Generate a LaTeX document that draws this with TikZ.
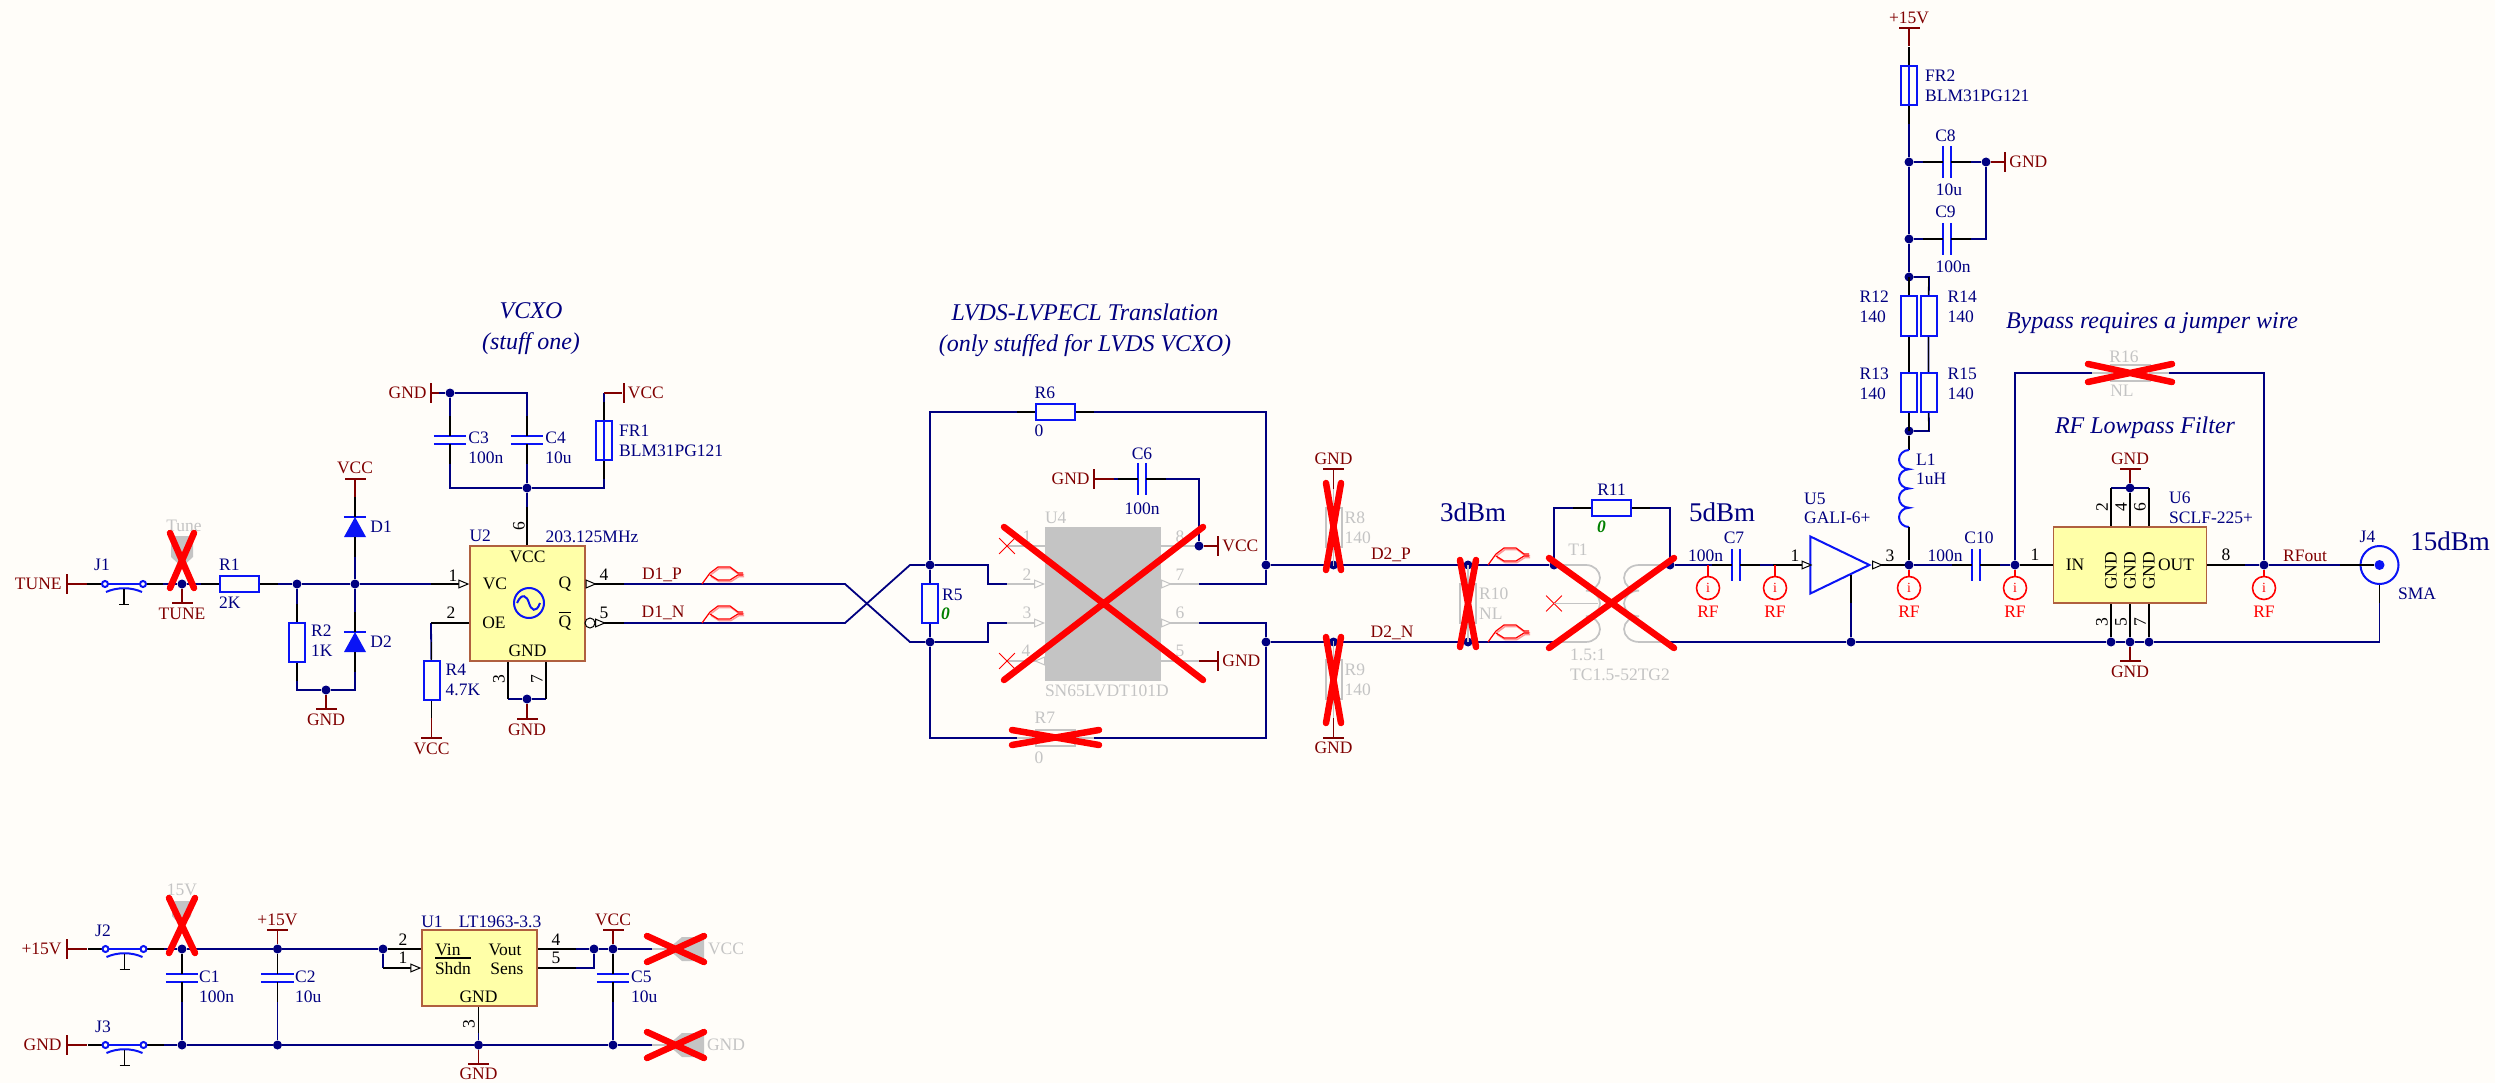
\documentclass[tikz,border=0pt]{standalone}
\usepackage{fontspec}
\setmainfont{Liberation Serif}
\usetikzlibrary{positioning,arrows.meta,backgrounds,shapes.misc,shapes.geometric}
\definecolor{paper}{HTML}{FFFDF9}
\definecolor{netblue}{HTML}{000080}
\definecolor{partblue}{HTML}{0A14F5}
\definecolor{pwrred}{HTML}{800000}
\definecolor{ghost}{HTML}{C4C4C4}
\definecolor{icfill}{HTML}{FFFFA8}
\definecolor{icedge}{HTML}{B0603F}
\definecolor{zerogreen}{HTML}{008000}
\tikzset{
	vleads/.style={append after command={\pgfextra{\let\tn\tikzlastnode}
		(\tn.north) edge[#1] ++(0,-18) (\tn.south) edge[#1] ++(0,18)}},
	hleads/.style={append after command={\pgfextra{\let\tn\tikzlastnode}
		(\tn.west) edge[#1] ++(-18,0) (\tn.east) edge[#1] ++(18,0)}},
	wire/.style={draw=netblue,line width=1.8pt},
	stub/.style={draw=black,line width=1.7pt},
	gstub/.style={draw=ghost,line width=1.7pt},
	power/.style={draw=pwrred,line width=1.7pt},
	part/.style={draw=partblue,line width=2pt},
	bodyv/.style={rectangle,line width=2pt,inner sep=0,minimum width=16pt,minimum height=39pt},
	bodyh/.style={rectangle,line width=2pt,inner sep=0,minimum width=39pt,minimum height=16pt},
	resv/.style={bodyv,draw=partblue,vleads=stub},
	resh/.style={bodyh,draw=partblue,hleads=stub},
	gresv/.style={bodyv,draw=ghost,vleads=gstub},
	gresh/.style={bodyh,draw=ghost,hleads=gstub},
	fuse/.style={resv,path picture={\draw[part] (path picture bounding box.north)--(path picture bounding box.south);}},
	capv/.style={rectangle,inner sep=0,minimum width=32pt,minimum height=8pt,
		append after command={\pgfextra{\let\tn\tikzlastnode}
		(\tn.north west) edge[part] (\tn.north east) (\tn.south west) edge[part] (\tn.south east)
		(\tn.north) edge[stub] ++(0,-20) (\tn.south) edge[stub] ++(0,20)}},
	caph/.style={rectangle,inner sep=0,minimum width=8pt,minimum height=32pt,
		append after command={\pgfextra{\let\tn\tikzlastnode}
		(\tn.north west) edge[part] (\tn.south west) (\tn.north east) edge[part] (\tn.south east)
		(\tn.west) edge[stub] ++(-20,0) (\tn.east) edge[stub] ++(20,0)}},
	diode/.style={rectangle,inner sep=0,minimum width=22pt,minimum height=20pt,
		path picture={\fill[partblue] (path picture bounding box.south west)--(path picture bounding box.south east)--(path picture bounding box.north)--cycle;},
		append after command={\pgfextra{\let\tn\tikzlastnode}
		(\tn.north west) edge[part] (\tn.north east)
		(\tn.north) edge[stub] ++(0,-20) (\tn.south) edge[stub] ++(0,20)}},
	dot/.style={circle,fill=netblue,inner sep=0,minimum size=9pt},
	barh/.style={rectangle,fill=pwrred,inner sep=0,minimum width=21pt,minimum height=2pt},
	barv/.style={rectangle,fill=pwrred,inner sep=0,minimum width=2pt,minimum height=20pt},
	ovl/.style={rectangle,fill=black,inner sep=0,minimum height=1.2pt},
	ic/.style={rectangle,draw=icedge,fill=icfill,line width=1.4pt,inner sep=0},
	lbl/.style={text=netblue,inner sep=0,align=left,font=\fontsize{17.5}{20}\selectfont},
	pwr/.style={text=pwrred,inner sep=0,font=\fontsize{17.5}{20}\selectfont},
	glbl/.style={text=ghost,inner sep=0,align=left,font=\fontsize{17.5}{20}\selectfont},
	ictxt/.style={text=black,inner sep=0,font=\fontsize{17.5}{20}\selectfont},
	zero/.style={text=zerogreen,inner sep=0,font=\fontsize{17.5}{20}\selectfont\itshape\bfseries},
	title/.style={text=netblue,inner sep=0,align=center,font=\fontsize{24}{31}\selectfont\itshape},
	power level/.style={text=netblue,inner sep=0,font=\fontsize{27}{30}\selectfont},
	probe/.style={circle,draw=red,line width=1.6pt,inner sep=0,minimum size=23pt,text=red,font=\fontsize{14}{14}\selectfont},
	rf/.style={text=red,inner sep=0,font=\fontsize{17.5}{20}\selectfont},
	xmark/.style={cross out,draw=red,line width=6.5pt,line cap=round,inner sep=0,outer sep=0},
	nc/.style={cross out,draw=red,line width=.8pt,inner sep=0,minimum size=15pt},
	outline/.style={fill=ghost,draw=none},
	tip/.style={-{Triangle[open,fill=paper,length=11pt,width=9pt,line width=1pt]}},
	jumper/.pic={
		\draw[stub] (-18,0)--(0,0) (38,0)--(58,0);
		\draw[part] (0,0)--(38,0);
		\draw[part] (1,8) .. controls (12,3) and (26,3) .. (37,8);
		\draw[stub] (19,5)--(19,20);
		\draw[stub,line width=1pt] (14,20)--(24,20);
		\draw[part,fill=paper] (0,0) circle[radius=3pt] (38,0) circle[radius=3pt];
	},
	diffpair/.pic={
		\draw[red!40,line width=1.5pt,xshift=1pt,yshift=-1.5pt] (8,-11)--(16,-17)--(28,-17)--(36,-11)--(41,-11) (8,-9)--(16,-4)--(28,-4)--(36,-9)--(41,-9);
		\draw[red,line width=1.2pt] (0,0)--(8,-11)--(16,-17)--(28,-17)--(36,-11)--(41,-11) (8,-9)--(16,-4)--(28,-4)--(36,-9)--(41,-9);
	}
}
\begin{document}
\begin{tikzpicture}[x=1pt,y=-1pt]
\begin{scope}[on background layer]
	\path [use as bounding box,fill=paper] (0,0) rectangle (2495,1083);
\end{scope}

	\node [title] (vcxot) at (531,329) {VCXO\\(stuff one)};
	\node [title] (lvdst) at (1085,330) {LVDS-LVPECL Translation\\(only stuffed for LVDS VCXO)};
	\node [title] (bypt) at (2152,323) {Bypass requires a jumper wire};
	\node [title] (rflp) at (2145,428) {RF Lowpass Filter};
	\node [power level] (db3) at (1473,512) {3dBm};
	\node [power level] (db5) at (1722,512) {5dBm};
	\node [power level] (db15) at (2450,541) {15dBm};

	\node [barv] (tunebar) at (67,584) {};
	\node [pwr,left=4pt of tunebar] (tunet) {TUNE};
	\coordinate (j1a) at (105,584);
	\coordinate [right=38pt of j1a] (j1b);
	\pic at (j1a) {jumper};
	\node [lbl,above=13pt of j1a,xshift=-3pt] (j1t) {J1};
	\node [dot] (tdot) at (182,584) {};
	\node [barh] (tbar) at (182,603) {};
	\node [pwr,below=4pt of tbar] (ttxt) {TUNE};
	\node [resh] (r1) at (239.5,584) {};
	\node [lbl,above right=4pt and 0pt of r1.north west] (r1t) {R1};
	\node [lbl,below right=4pt and 0pt of r1.south west] (r1v) {2K};
	\node [dot] (r2dot) at (297,584) {};
	\node [dot] (djun) at (355,584) {};
	\node [resv] (r2) at (297,642) {};
	\node [lbl,right=5pt of r2,yshift=1.5pt] (r2t) {R2\\1K};
	\coordinate (r2b) at (297,690);
	\coordinate (d2b) at (355,690);
	\node [dot] (gdot) at (326,690) {};
	\node [barh] (gbar) at (326,709) {};
	\node [pwr,below=4pt of gbar] (gtxt) {GND};
	\node [diode] (d1) at (355,527) {};
	\node [lbl,right=4pt of d1] (d1t) {D1};
	\node [barh] (d1bar) at (355,479) {};
	\node [pwr,above=4pt of d1bar] (d1txt) {VCC};
	\node [diode] (d2) at (355,642) {};
	\node [lbl,right=4pt of d2] (d2t) {D2};

	\node [ic,minimum width=115pt,minimum height=115pt] (u2) at (527.5,603.5) {};
	\node [lbl,above right=3pt and 0pt of u2.north west] (u2t) {U2};
	\node [lbl] (u2v) at (592,537) {203.125MHz};
	\node [ictxt,below=5pt of u2.north] (u2vcc) {VCC};
	\node [ictxt] (u2vc) at (495,584) {VC};
	\node [ictxt] (u2q) at (565,584) {Q};
	\node [ictxt] (u2nq) at (565,623) {Q};
	\node [ovl,minimum width=12pt,above=2pt of u2nq] (u2nb) {};
	\node [ictxt] (u2oe) at (494,623) {OE};
	\node [ictxt,above=5pt of u2.south] (u2gnd) {GND};
	\node [circle,draw=partblue,line width=2pt,minimum size=30pt,inner sep=0] (osc) at (529,603) {};
	\draw [part] (osc.west) ++(4,0) .. controls (522,592) and (527,596) .. (529,603) .. controls (531,610) and (536,614) .. (540,603);
	\coordinate (u2p1) at (431,584);
	\coordinate (u2p2) at (431,623);
	\coordinate (u2p3) at (508,699);
	\coordinate (u2p7) at (546,699);
	\coordinate (u2p6) at (527,507);
	\coordinate (u2p4) at (624,584);
	\coordinate (u2p5) at (624,623);
	\draw [stub,tip] (u2p1) -- (u2p1 -| u2.west);
	\draw [stub] (u2p2) -- (u2p2 -| u2.west);
	\draw [stub] (u2p3) -- (u2p3 |- u2.south);
	\draw [stub] (u2p7) -- (u2p7 |- u2.south);
	\draw [stub] (u2p6) -- (u2p6 |- u2.north);
	\draw [stub] (u2p4) -- (u2p4 -| u2.east);
	\draw [stub] (u2p5) -- (u2p5 -| u2.east);
	\draw [stub,tip] (u2.east |- u2p4) -- ++(11,0);
	\draw [stub,tip] (595,623) -- ++(11,0);
	\node [circle,draw=black,fill=paper,line width=1pt,minimum size=10pt,inner sep=0] (u2bub) at (590,623) {};
	\node [ictxt] (n1) at (453,576) {1};
	\node [ictxt] (n2) at (451,613) {2};
	\node [ictxt] (n4) at (604,575) {4};
	\node [ictxt] (n5) at (604,613) {5};
	\node [ictxt,rotate=90] (n6) at (519,526) {6};
	\node [ictxt,rotate=90] (n3) at (499,679) {3};
	\node [ictxt,rotate=90] (n7) at (537,679) {7};
	\node [resv] (r4) at (431.5,680) {};
	\node [lbl,right=5pt of r4] (r4t) {R4\\4.7K};
	\node [barh] (r4bar) at (431.5,738) {};
	\node [pwr,below=3.5pt of r4bar] (r4txt) {VCC};
	\node [dot] (u2gdot) at (527,699) {};
	\node [barh] (u2gbar) at (527,719) {};
	\node [pwr,below=3.5pt of u2gbar] (u2gtxt) {GND};
	\node [dot] (c4dot) at (527,488) {};
	\node [dot] (c3dot) at (450,393) {};
	\coordinate (c4t) at (527,393);
	\coordinate (c3b) at (450,488);
	\coordinate (fr1b) at (604,488);
	\coordinate (fr1t) at (604,393);
	\node [capv] (c3) at (450,440) {};
	\node [lbl,right=2pt of c3,yshift=-8pt] (c3t) {C3\\100n};
	\node [capv] (c4) at (527,440) {};
	\node [lbl,right=2pt of c4,yshift=-8pt] (c4t2) {C4\\10u};
	\node [barv] (c3bar) at (431,393) {};
	\node [pwr,left=3pt of c3bar] (c3txt) {GND};
	\node [fuse] (fr1) at (604,440.5) {};
	\node [lbl,right=6pt of fr1] (fr1l) {FR1\\BLM31PG121};
	\node [barv] (fr1bar) at (623.5,393) {};
	\node [pwr,right=3pt of fr1bar] (fr1txt) {VCC};

	\node [pwr] (d1p) at (662,575) {D1\_P};
	\node [pwr] (d1n) at (663,613) {D1\_N};
	\pic at (702,584) {diffpair};
	\pic at (702,623) {diffpair};
	\coordinate (xa) at (845,584);
	\coordinate (xb) at (845,623);
	\coordinate (xc) at (910,642);
	\coordinate (xd) at (910,565);
	\node [dot] (r5t) at (930,565) {};
	\node [dot] (r5b) at (930,642) {};
	\node [bodyv,draw=partblue] (r5) at (930,603.5) {};
	\node [lbl,right=3pt of r5,yshift=9pt] (r5l) {R5};
	\node [zero,right=2pt of r5,yshift=-10pt] (r5v) {0};
	\coordinate (xe) at (988,565);
	\coordinate (xf) at (988,584);
	\coordinate (xg) at (1007,584);
	\coordinate (xh) at (988,642);
	\coordinate (xi) at (988,623);
	\coordinate (xj) at (1007,623);
	\coordinate (r6a) at (930,412);
	\coordinate (r6b) at (1266,412);
	\coordinate (r7a) at (930,738);
	\coordinate (r7b) at (1266,738);
	\node [resh] (r6) at (1055,412) {};
	\node [lbl,above right=4pt and 0pt of r6.north west] (r6t) {R6};
	\node [lbl,below right=4pt and 0pt of r6.south west] (r6v) {0};
	\node [gresh] (r7) at (1055,738) {};
	\node [glbl,above right=5pt and 0pt of r7.north west] (r7t) {R7};
	\node [glbl,below right=5pt and 0pt of r7.south west] (r7v) {0};

	\coordinate (u4p1) at (1007,546);
	\coordinate (u4p2) at (1007,584);
	\coordinate (u4p3) at (1007,623);
	\coordinate (u4p4) at (1007,661);
	\coordinate (u4p8) at (1199,546);
	\coordinate (u4p7) at (1199,584);
	\coordinate (u4p6) at (1199,623);
	\coordinate (u4p5) at (1199,661);
	\draw [gstub] (u4p1) -- (1045,546) (1161,546) -- (u4p8) (1161,661) -- (u4p5) (1161,584) -- (u4p7) (1161,623) -- (u4p6) (u4p4) -- (1045,661);
	\draw [gstub,tip] (u4p2) -- (1045,584);
	\draw [gstub,tip] (u4p3) -- (1045,623);
	\draw [gstub,tip] (1045,661) -- (1034,661);
	\draw [gstub,tip] (1161,584) -- (1172,584);
	\draw [gstub,tip] (1161,623) -- (1172,623);
	\node [rectangle,fill=ghost,inner sep=0,minimum width=116pt,minimum height=154pt] (u4) at (1103,604) {};
	\node [glbl,above right=3pt and 0pt of u4.north west] (u4t) {U4};
	\node [glbl,below right=3pt and 0pt of u4.south west] (u4v) {SN65LVDT101D};
	\node [glbl] (g1) at (1027,537) {1};
	\node [glbl] (g2) at (1027,575) {2};
	\node [glbl] (g3) at (1027,613) {3};
	\node [glbl] (g4) at (1026,651) {4};
	\node [glbl] (g8) at (1180,537) {8};
	\node [glbl] (g7) at (1180,575) {7};
	\node [glbl] (g6) at (1180,613) {6};
	\node [glbl] (g5) at (1180,651) {5};
	\node [nc] (u4nc1) at (u4p1) {};
	\node [nc] (u4nc4) at (u4p4) {};
	\node [barv] (c6bar) at (1094,479) {};
	\node [pwr,left=3pt of c6bar] (c6txt) {GND};
	\node [caph] (c6) at (1142,479) {};
	\node [lbl,above=3pt of c6] (c6t) {C6};
	\node [lbl,below=7pt of c6] (c6v) {100n};
	\coordinate (c6r) at (1199,479);
	\node [dot] (u4vdot) at (u4p8) {};
	\node [barv] (u4vbar) at (1218,546) {};
	\node [pwr,right=3pt of u4vbar] (u4vtxt) {VCC};
	\node [barv] (u4gbar) at (1218,661) {};
	\node [pwr,right=3pt of u4gbar] (u4gtxt) {GND};

	\node [dot] (rjt) at (1266,565) {};
	\node [dot] (rjb) at (1266,642) {};
	\node [dot] (r8d) at (1333.5,565) {};
	\node [dot] (r9d) at (1333.5,642) {};
	\node [gresv] (r8) at (1333.5,527.5) {};
	\node [glbl,right=2pt of r8] (r8t) {R8\\140};
	\node [gresv] (r9) at (1333.5,679.5) {};
	\node [glbl,right=2pt of r9] (r9t) {R9\\140};
	\node [barh] (r8bar) at (1333.5,469) {};
	\node [pwr,above=3pt of r8bar] (r8txt) {GND};
	\node [barh] (r9bar) at (1333.5,738) {};
	\node [pwr,below=3pt of r9bar] (r9txt) {GND};
	\node [pwr] (d2p) at (1391,555) {D2\_P};
	\node [pwr] (d2n) at (1392,633) {D2\_N};
	\node [dot] (r10t) at (1468,565) {};
	\node [dot] (r10b) at (1468,642) {};
	\node [gresv] (r10) at (1468,603.5) {};
	\node [glbl,right=2pt of r10] (r10l) {R10\\NL};
	\pic at (1488,565) {diffpair};
	\pic at (1488,642) {diffpair};

	\node [dot] (t1a) at (1554,565) {};
	\coordinate (t1b) at (1554,642);
	\node [dot] (t1c) at (1670,565) {};
	\coordinate (t1d) at (1670,642);
	\draw [gstub] (t1a) -- (1586,565) arc[start angle=90,end angle=-90,x radius=14pt,y radius=12.83pt]
		arc[start angle=90,end angle=-90,x radius=14pt,y radius=12.83pt]
		arc[start angle=90,end angle=-90,x radius=14pt,y radius=12.83pt] -- (t1b);
	\draw [gstub] (t1c) -- (1639,565) arc[start angle=90,end angle=270,x radius=15pt,y radius=12.83pt]
		arc[start angle=90,end angle=270,x radius=15pt,y radius=12.83pt]
		arc[start angle=90,end angle=270,x radius=15pt,y radius=12.83pt] -- (t1d);
	\node [nc] (t1nc) at (1554,603.5) {};
	\draw [gstub] (t1nc.center) -- (1598,603.5);
	\node [glbl] (t1t) at (1578,550) {T1};
	\node [glbl,anchor=north west] (t1v) at (1570,649) {1.5:1\\TC1.5-52TG2};
	\coordinate (r11a) at (1554,508);
	\coordinate (r11b) at (1670,508);
	\node [resh] (r11) at (1611.5,508) {};
	\node [lbl,above=3pt of r11] (r11t) {R11};
	\node [zero,below=4pt of r11,xshift=-10pt] (r11v) {0};

	\node [caph] (c7) at (1736,565) {};
	\node [lbl] (c7t) at (1734,538) {C7};
	\node [lbl] (c7v) at (1705.5,556) {100n};
	\node [probe] (pa) at (1708,588) {i};
	\node [rf,below=6pt of pa] (paf) {RF};
	\coordinate (pat) at (1708,565);
	\node [probe] (pb) at (1775,588) {i};
	\node [rf,below=6pt of pb] (pbf) {RF};
	\coordinate (pbt) at (1775,565);
	\node [isosceles triangle,isosceles triangle stretches,draw=partblue,line width=2pt,inner sep=0,minimum width=57pt,minimum height=59pt,anchor=apex] (u5) at (1872,565) {};
	\node [lbl,anchor=west] (u5t) at (1804,499) {U5};
	\node [lbl,anchor=west] (u5v) at (1804,518) {GALI-6+};
	\coordinate (u5p1) at (1773,565);
	\coordinate (u5p3) at (1909,565);
	\coordinate (u5p2) at (1851,603);
	\draw [stub,tip] (u5p1) -- (1812.5,565);
	\draw [stub] (1872,565) -- (u5p3);
	\draw [stub,tip] (1872,565) -- ++(11,0);
	\draw [stub] (1851,575) -- (u5p2);
	\node [ictxt] (u5n1) at (1795,556) {1};
	\node [ictxt] (u5n3) at (1890,556) {3};
	\node [dot] (u5g) at (1851,642) {};
	\node [dot] (l1b) at (1909,565) {};
	\node [probe] (pc) at (1909,588) {i};
	\node [rf,below=6pt of pc] (pcf) {RF};

	\coordinate (l1s) at (1909,527);
	\coordinate (l1e) at (1909,450);
	\draw [part] (l1e) arc[start angle=90,end angle=270,x radius=10pt,y radius=9.63pt]
		arc[start angle=90,end angle=270,x radius=10pt,y radius=9.63pt]
		arc[start angle=90,end angle=270,x radius=10pt,y radius=9.63pt]
		arc[start angle=90,end angle=270,x radius=10pt,y radius=9.63pt];
	\node [lbl,anchor=west] (l1t) at (1916,460) {L1};
	\node [lbl,anchor=west] (l1v) at (1916,479) {1uH};
	\draw [stub] (l1s) -- (l1b);
	\node [dot] (ra) at (1909,431) {};
	\coordinate (rb) at (1929,431);
	\node [dot] (rc) at (1909,277) {};
	\coordinate (rd) at (1929,277);
	\node [resv] (r12) at (1909,316) {};
	\node [resv] (r13) at (1909,392.5) {};
	\node [resv] (r14) at (1928.5,316) {};
	\node [resv] (r15) at (1928.5,392.5) {};
	\node [lbl,left=11pt of r12,yshift=9pt] (r12t) {R12\\140};
	\node [lbl,left=11pt of r13,yshift=9pt] (r13t) {R13\\140};
	\node [lbl,right=10pt of r14,yshift=9pt] (r14t) {R14\\140};
	\node [lbl,right=10pt of r15,yshift=9pt] (r15t) {R15\\140};
	\node [dot] (c9a) at (1909,239) {};
	\node [dot] (c8a) at (1909,162) {};
	\node [caph] (c8) at (1947,162) {};
	\node [lbl] (c8t) at (1945.5,136) {C8};
	\node [lbl] (c8v) at (1949,190) {10u};
	\node [caph] (c9) at (1947,239) {};
	\node [lbl] (c9t) at (1945.5,212) {C9};
	\node [lbl] (c9v) at (1953,267) {100n};
	\node [dot] (c8b) at (1986,162) {};
	\coordinate (c9b) at (1986,239);
	\node [barv] (c8bar) at (2005,162) {};
	\node [pwr,right=3pt of c8bar] (c8txt) {GND};
	\node [fuse] (fr2) at (1909,85.5) {};
	\node [lbl,right=7pt of fr2] (fr2l) {FR2\\BLM31PG121};
	\node [barh] (fr2bar) at (1909,28) {};
	\node [pwr,above=3pt of fr2bar] (fr2txt) {+15V};

	\node [caph] (c10) at (1976,565) {};
	\node [lbl] (c10t) at (1979,538) {C10};
	\node [lbl] (c10v) at (1945,556) {100n};
	\node [dot] (cxd) at (2015,565) {};
	\node [probe] (pd) at (2015,588) {i};
	\node [rf,below=6pt of pd] (pdf) {RF};
	\coordinate (r16a) at (2015,373);
	\coordinate (r16b) at (2264,373);
	\node [gresh] (r16) at (2130,373) {};
	\node [glbl] (r16t) at (2124,357) {R16};
	\node [glbl] (r16v) at (2122,391) {NL};
	\node [ic,minimum width=153pt,minimum height=76pt] (u6) at (2130,565) {};
	\node [ictxt] (u6in) at (2075,565) {IN};
	\node [ictxt] (u6out) at (2176,565) {OUT};
	\node [ictxt,rotate=90] (u6g1) at (2111,571) {GND};
	\node [ictxt,rotate=90] (u6g2) at (2130,571) {GND};
	\node [ictxt,rotate=90] (u6g3) at (2149,571) {GND};
	\coordinate (u6t1) at (2111,488);
	\coordinate (u6t3) at (2149,488);
	\node [dot] (u6t2) at (2130,488) {};
	\node [dot] (u6b1) at (2111,642) {};
	\node [dot] (u6b2) at (2130,642) {};
	\node [dot] (u6b3) at (2149,642) {};
	\draw [stub] (u6t1) -- (u6t1 |- u6.north) (u6t2) -- (u6t2 |- u6.north) (u6t3) -- (u6t3 |- u6.north);
	\draw [stub] (u6b1) -- (u6b1 |- u6.south) (u6b2) -- (u6b2 |- u6.south) (u6b3) -- (u6b3 |- u6.south);
	\coordinate (u6p8) at (2245,565);
	\draw [stub] (cxd) -- (cxd -| u6.west) (u6.east) -- (u6p8);
	\node [ictxt] (u6n1) at (2035,555) {1};
	\node [ictxt] (u6n8) at (2226,555) {8};
	\node [ictxt,rotate=90] (u6n2) at (2102,507) {2};
	\node [ictxt,rotate=90] (u6n4) at (2121,507) {4};
	\node [ictxt,rotate=90] (u6n6) at (2140,507) {6};
	\node [ictxt,rotate=90] (u6n3) at (2102,622) {3};
	\node [ictxt,rotate=90] (u6n5) at (2121,622) {5};
	\node [ictxt,rotate=90] (u6n7) at (2140,622) {7};
	\node [lbl,anchor=west] (u6t) at (2169,498) {U6};
	\node [lbl,anchor=west] (u6v) at (2169,518) {SCLF-225+};
	\node [barh] (u6tbar) at (2130,469) {};
	\node [pwr,above=3pt of u6tbar] (u6ttxt) {GND};
	\node [barh] (u6bbar) at (2130,661) {};
	\node [pwr,below=4pt of u6bbar] (u6btxt) {GND};
	\node [dot] (rfo) at (2264,565) {};
	\node [probe] (pe) at (2264,588) {i};
	\node [rf,below=6pt of pe] (pef) {RF};
	\node [pwr] (rfot) at (2305,556) {RFout};
	\node [circle,fill=partblue,inner sep=0,minimum size=10pt] (j4c) at (2379.5,565) {};
	\node [circle,draw=partblue,line width=2pt,inner sep=0,minimum size=38pt] (j4) at (2379.5,565) {};
	\node [lbl] (j4t) at (2367.5,537) {J4};
	\node [lbl] (j4v) at (2417,594) {SMA};
	\coordinate (j4g) at (2379.5,603);
	\coordinate (j4k) at (2379.5,642);
	\coordinate (j4s) at (2340,565);
	\draw [stub] (j4s) -- (j4c);
	\draw [stub] (j4) -- (j4g);

	\node [barv] (v15bar) at (67,949) {};
	\node [pwr,left=4pt of v15bar] (v15txt) {+15V};
	\coordinate (j2a) at (105.5,949);
	\coordinate [right=38pt of j2a] (j2b);
	\pic at (j2a) {jumper};
	\node [lbl] (j2t) at (103,931) {J2};
	\node [barv] (gndbar) at (67,1045) {};
	\node [pwr,left=4pt of gndbar] (gndtxt) {GND};
	\coordinate (j3a) at (105.5,1045);
	\coordinate [right=38pt of j3a] (j3b);
	\pic at (j3a) {jumper};
	\node [lbl] (j3t) at (103,1027) {J3};
	\node [dot] (c1a) at (182,949) {};
	\node [dot] (c1b) at (182,1045) {};
	\node [capv] (c1) at (182,978) {};
	\node [lbl,anchor=north west] (c1t) at (199,971) {C1\\100n};
	\node [dot] (c2a) at (277.5,949) {};
	\node [dot] (c2b) at (277.5,1045) {};
	\node [capv] (c2) at (277.5,978) {};
	\node [lbl,anchor=north west] (c2t) at (295,971) {C2\\10u};
	\node [barh] (c2bar) at (277.5,930) {};
	\node [pwr,above=3pt of c2bar] (c2txt) {+15V};
	\node [dot] (vind) at (383,949) {};
	\coordinate (vins) at (383,968);
	\node [ic,minimum width=115pt,minimum height=76pt] (u1) at (479.5,968) {};
	\node [lbl] (u1t) at (432,922) {U1};
	\node [lbl] (u1v) at (500,922) {LT1963-3.3};
	\node [ictxt] (u1vin) at (448,950) {Vin};
	\node [ictxt] (u1sh) at (453,969) {Shdn};
	\node [ovl,minimum width=36pt] (u1bar) at (453,958) {};
	\node [ictxt] (u1vo) at (505,950) {Vout};
	\node [ictxt] (u1se) at (507,969) {Sens};
	\node [ictxt] (u1g) at (478.5,997) {GND};
	\draw [stub] (vind) -- (vind -| u1.west);
	\draw [stub,tip] (vins) -- (vins -| u1.west);
	\coordinate (u1p4) at (576,949);
	\coordinate (u1p5) at (576,968);
	\coordinate (u1p3) at (478.5,1033);
	\draw [stub] (u1p4) -- (u1p4 -| u1.east) (u1p5) -- (u1p5 -| u1.east) (u1p3) -- (u1p3 |- u1.south);
	\node [ictxt] (u1n2) at (403,940) {2};
	\node [ictxt] (u1n1) at (403,958) {1};
	\node [ictxt] (u1n4) at (556,940) {4};
	\node [ictxt] (u1n5) at (556,958) {5};
	\node [ictxt,rotate=90] (u1n3) at (469,1024) {3};
	\node [dot] (u1g2) at (478.5,1045) {};
	\node [barh] (u1gbar) at (478.5,1064) {};
	\node [pwr,below=3pt of u1gbar] (u1gtxt) {GND};
	\node [dot] (vo1) at (594,949) {};
	\coordinate (vo1b) at (594,968);
	\node [dot] (c5a) at (613,949) {};
	\node [dot] (c5b) at (613,1045) {};
	\node [capv] (c5) at (613,978) {};
	\node [lbl,anchor=north west] (c5t) at (631,971) {C5\\10u};
	\node [barh] (c5bar) at (613,930) {};
	\node [pwr,above=3pt of c5bar] (c5txt) {VCC};
	\coordinate (vccend) at (668,949);
	\coordinate (gndend) at (668,1045);
	\coordinate (vccw) at (652,949);
	\coordinate (gndw) at (652,1045);
	\fill [outline] (668,949) -- (682,937) -- (704,937) -- (704,961) -- (682,961) -- cycle;
	\fill [outline] (668,1045) -- (682,1033) -- (704,1033) -- (704,1057) -- (682,1057) -- cycle;
	\draw [gstub] (vccw) -- (vccend) (gndw) -- (gndend);
	\node [glbl] (vcct) at (726,949) {VCC};
	\node [glbl] (gndt) at (726,1045) {GND};
	\fill [outline] (171,536) -- (193,536) -- (193,557) -- (182,567) -- (171,557) -- cycle;
	\node [glbl] (tunet2) at (184,526) {Tune};
	\fill [outline] (172,901) -- (191,901) -- (191,916) -- (182,927) -- (172,916) -- cycle;
	\node [glbl] (v15t) at (182,890) {15V};

\begin{scope}[on background layer]
	\draw [wire] (j1b) -- (tdot) -- (r1) -- (r2dot) -- (djun) -- (u2p1);
	\draw [wire] (r2dot) -- (r2) -- (r2b) -- (gdot) -- (d2b) -- (d2) -- (djun) -- (d1);
	\draw [wire] (c3bar) -- (c3dot) -- (c4t) -- (c4) -- (c4dot) -- (u2p6);
	\draw [wire] (c3dot) -- (c3) -- (c3b) -- (c4dot) -- (fr1b) -- (fr1) -- (fr1t);
	\draw [wire] (u2p2) -- (r4);
	\draw [wire] (u2p3) -- (u2gdot) -- (u2p7);
	\draw [wire] (u2p4) -- (xa) -- (xc) -- (r5b) -- (xh) -- (xi) -- (xj);
	\draw [wire] (u2p5) -- (xb) -- (xd) -- (r5t) -- (xe) -- (xf) -- (xg);
	\draw [wire] (r5t) -- (r5) -- (r5b);
	\draw [wire] (r5t) -- (r6a) -- (r6) -- (r6b) -- (rjt);
	\draw [wire] (rjt) -- (rjt |- u4p7) -- (u4p7);
	\draw [wire] (r5b) -- (r7a) -- (r7) -- (r7b) -- (rjb);
	\draw [wire] (rjb) -- (rjb |- u4p6) -- (u4p6);
	\draw [wire] (rjt) -- (r8d) -- (r10t) -- (t1a);
	\draw [wire] (rjb) -- (r9d) -- (r10b) -- (t1b);
	\draw [wire] (t1a) -- (r11a) -- (r11) -- (r11b) -- (t1c);
	\draw [wire] (t1c) -- (c7) -- (u5p1);
	\draw [wire] (t1d) -- (u5g) -- (u6b1) -- (u6b2) -- (u6b3) -- (j4k) -- (j4g);
	\draw [wire] (u5g) -- (u5p2);
	\draw [wire] (c6) -- (c6r) -- (u4vdot);
	\draw [wire] (c6bar) -- (c6);
	\draw [wire] (l1b) -- (c10) -- (cxd) -- (r16a) -- (r16) -- (r16b) -- (rfo) -- (u6p8);
	\draw [wire] (rfo) -- (j4s);
	\draw [stub] (l1e) -- (ra);
	\draw [wire] (ra) -- (r13) -- (r12) -- (rc) -- (c9a) -- (c8a) -- (fr2);
	\draw [wire] (rc) -- (rd) -- (r14) -- (r15) -- (rb) -- (ra);
	\draw [wire] (c8a) -- (c8) -- (c8b);
	\draw [wire] (c9a) -- (c9) -- (c9b) -- (c8b);
	\draw [wire] (u6t1) -- (u6t3);
	\draw [wire] (j2b) -- (c1a) -- (c2a) -- (vind) -- (vins);
	\draw [wire] (u1p4) -- (vo1) -- (c5a) -- (vccw);
	\draw [wire] (u1p5) -- (vo1b) -- (vo1);
	\draw [wire] (j3b) -- (c1b) -- (c2b) -- (u1g2) -- (c5b) -- (gndw);
	\draw [wire] (u1p3) -- (u1g2);
	\draw [wire] (c1a) -- (c1) -- (c1b);
	\draw [wire] (c2a) -- (c2) -- (c2b);
	\draw [wire] (c5a) -- (c5) -- (c5b);
\end{scope}

	\draw [power] (tunebar) -- ++(20,0);
	\draw [power] (tdot) -- (tbar);
	\draw [power] (gdot) -- (gbar);
	\draw [power] (d1bar) -- ++(0,18);
	\draw [power] (r4bar) -- ++(0,-20);
	\draw [power] (u2gdot) -- (u2gbar);
	\draw [power] (c3bar) -- ++(8,0);
	\draw [power] (fr1t) -- (fr1bar);
	\draw [power] (c6bar) -- ++(20,0);
	\draw [power] (u4vdot) -- (u4vbar);
	\draw [power] (u4p5) -- (u4gbar);
	\draw [power] (r8bar) -- ++(0,20);
	\draw [power] (r9bar) -- ++(0,-20);
	\draw [power] (c8b) -- (c8bar);
	\draw [power] (fr2bar) -- ++(0,18);
	\draw [power] (u6t2) -- (u6tbar);
	\draw [power] (u6b2) -- (u6bbar);
	\draw [power] (v15bar) -- ++(20,0);
	\draw [power] (gndbar) -- ++(20,0);
	\draw [power] (c2a) -- (c2bar);
	\draw [power] (c5a) -- (c5bar);
	\draw [power] (u1g2) -- (u1gbar);
	\draw [red,line width=1.6pt] (pat) -- (pa);
	\draw [red,line width=1.6pt] (pbt) -- (pb);
	\draw [red,line width=1.6pt] (l1b) -- (pc);
	\draw [red,line width=1.6pt] (cxd) -- (pd);
	\draw [red,line width=1.6pt] (rfo) -- (pe);

	\node [xmark,minimum width=24pt,minimum height=55pt] (xtune) at (182,560.5) {};
	\node [xmark,minimum width=26pt,minimum height=55pt] (x15) at (182,925.5) {};
	\node [xmark,minimum width=199pt,minimum height=153pt] (xu4) at (1103.5,603.5) {};
	\node [xmark,minimum width=87pt,minimum height=15pt] (xr7) at (1055.5,737.5) {};
	\node [xmark,minimum width=15pt,minimum height=87pt] (xr8) at (1333.5,526.5) {};
	\node [xmark,minimum width=15pt,minimum height=86pt] (xr9) at (1333.5,680) {};
	\node [xmark,minimum width=16pt,minimum height=87pt] (xr10) at (1468,603.5) {};
	\node [xmark,minimum width=125pt,minimum height=90pt] (xt1) at (1611.5,603) {};
	\node [xmark,minimum width=84pt,minimum height=18pt] (xr16) at (2130,373) {};
	\node [xmark,minimum width=57pt,minimum height=26pt] (xvcc) at (675.5,949) {};
	\node [xmark,minimum width=57pt,minimum height=26pt] (xgnd) at (675.5,1045) {};
\end{tikzpicture}
\end{document}
